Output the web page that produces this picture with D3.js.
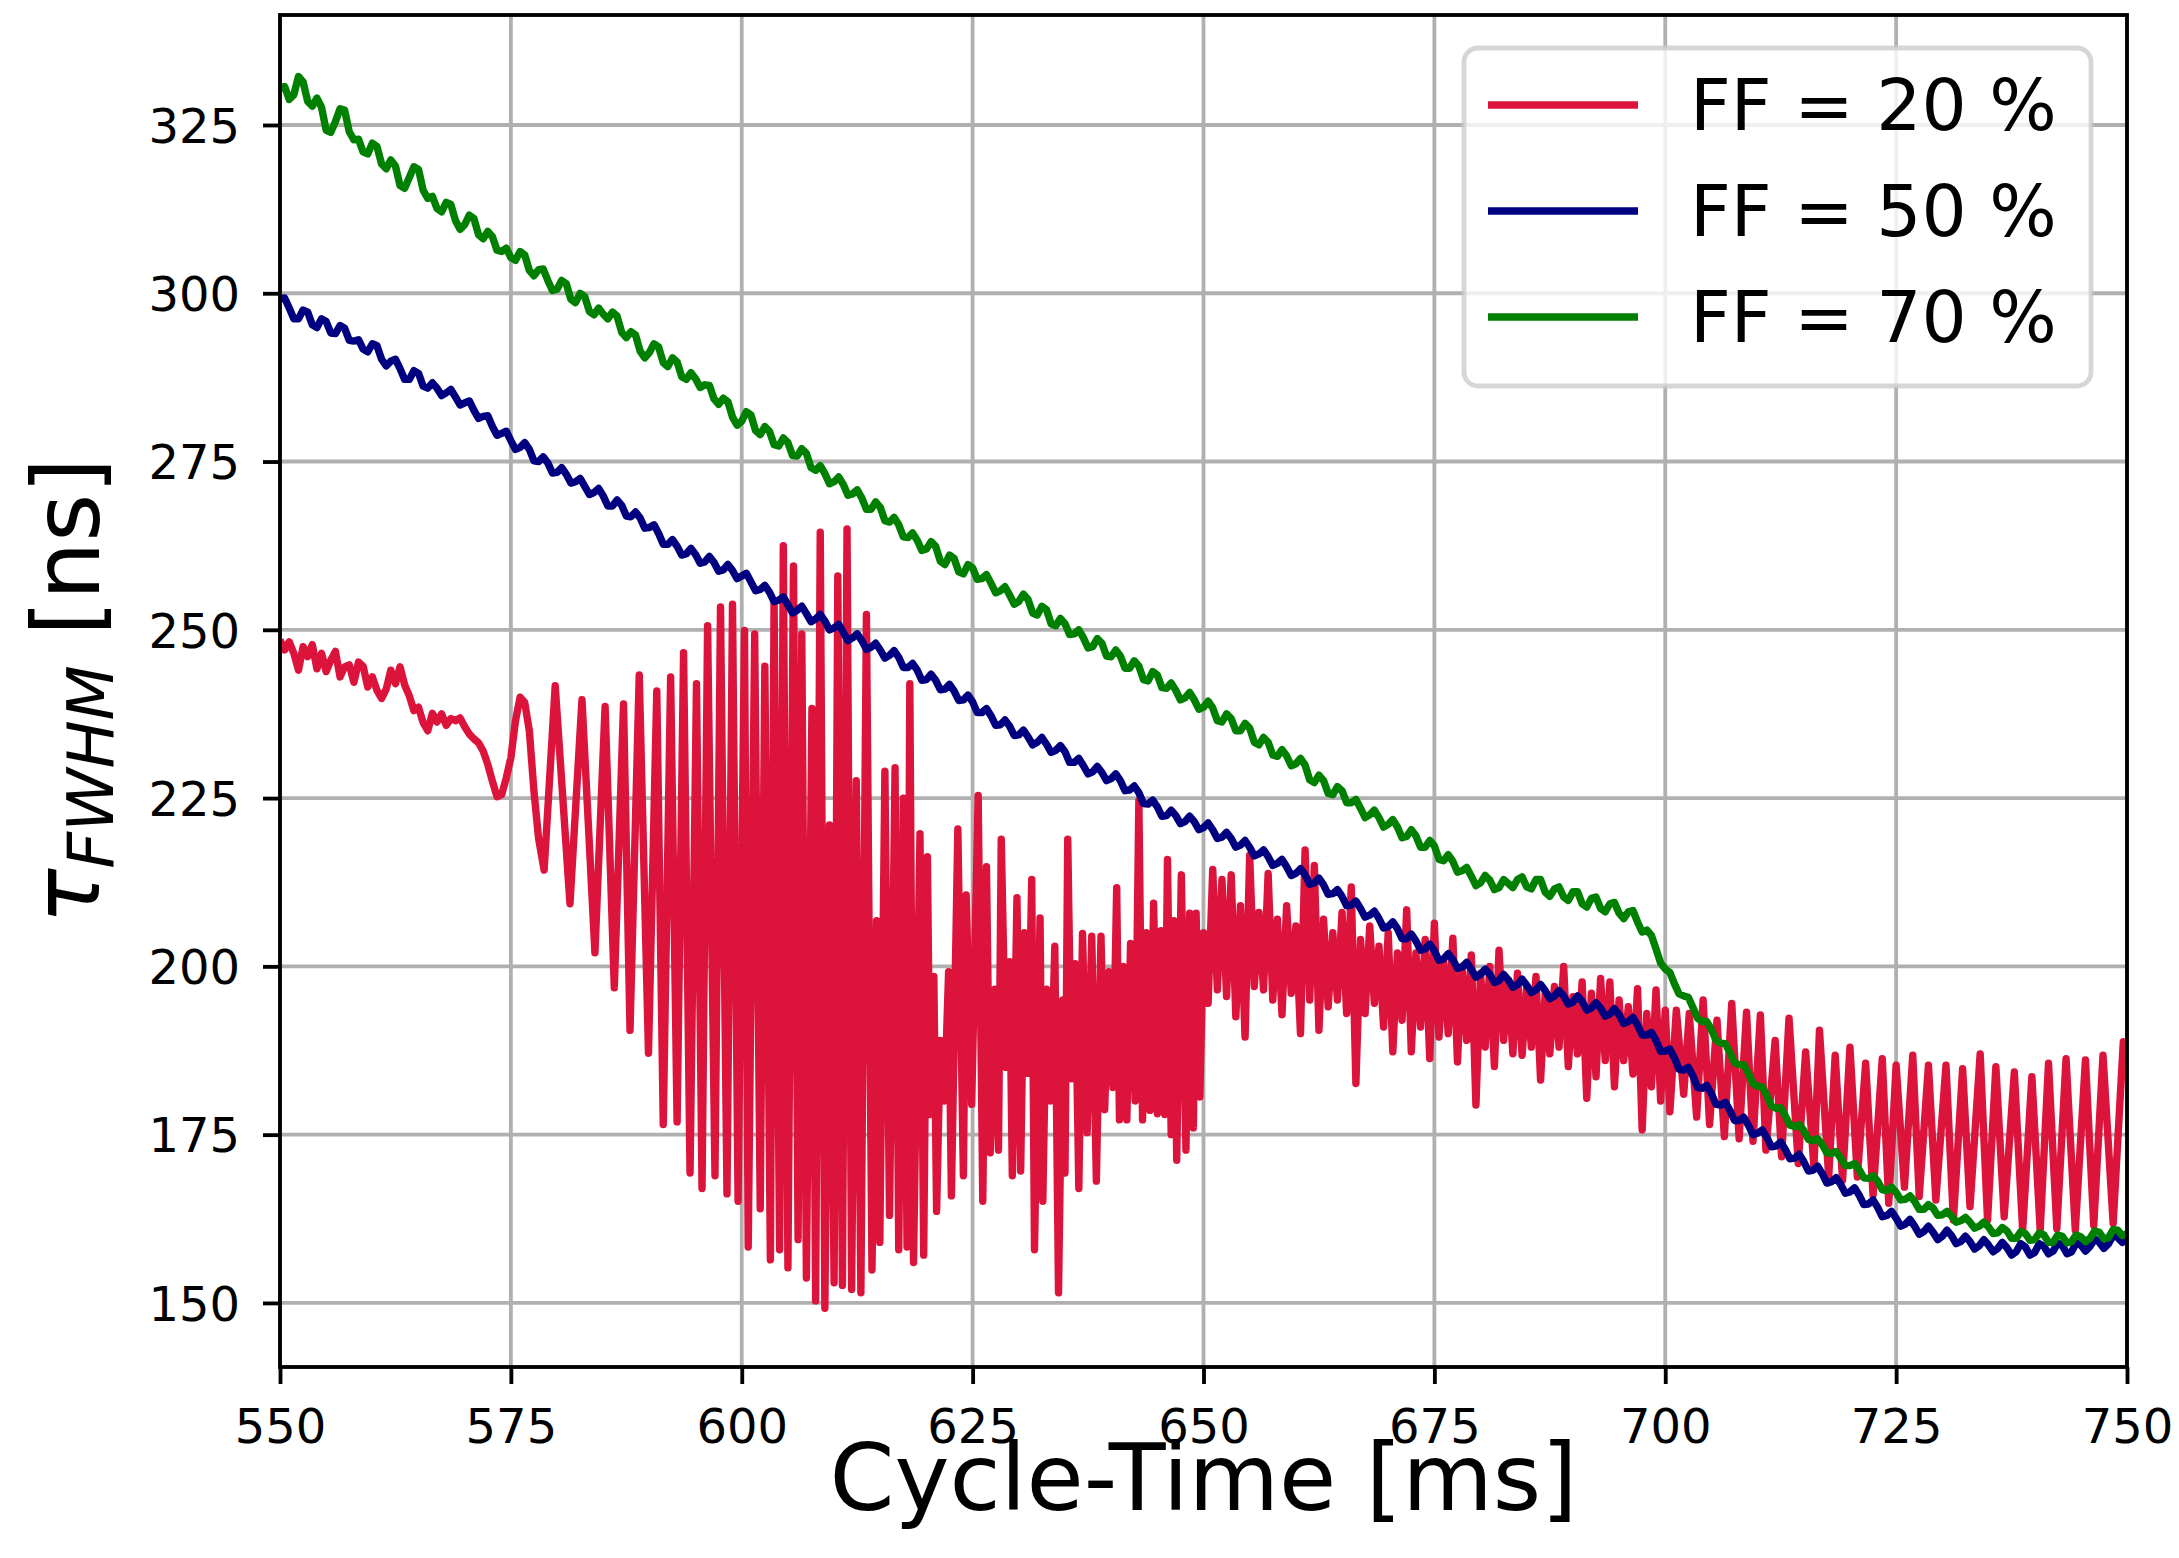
<!DOCTYPE html>
<html><head><meta charset="utf-8">
<script src="https://cdn.jsdelivr.net/npm/d3@7"></script>
<style>html,body{margin:0;padding:0;background:#fff;}svg{display:block;}</style>
</head><body>
<script>
// ---------- data ----------
const xTicks = [550, 575, 600, 625, 650, 675, 700, 725, 750];
const yTicks = [150, 175, 200, 225, 250, 275, 300, 325];
const seriesLabels = ["FF = 20 %", "FF = 50 %", "FF = 70 %"];
const seriesColors = ["#dc143c", "#000080", "#008000"];
const gridTimes = d3.range(550, 750.25, 0.5); // sampling times (ms) of the FF=50/70 traces

// FF = 50 %, one value every 0.5 ms from 550 to 750 ms (10 values per row = 5 ms)
const ff50 = [
299.2,299.3,297.8,296.2,296.2,297.5,297.2,295.3,294.9,296.2,
295.8,294.1,294.0,295.2,294.8,293.0,292.9,293.1,291.7,291.3,
292.5,292.2,290.2,289.2,289.9,290.2,288.8,287.2,287.2,288.5,
288.1,286.2,285.9,286.7,285.9,284.8,285.2,285.7,284.6,283.4,
283.7,284.0,282.6,281.4,281.7,281.8,280.2,278.9,279.2,279.5,
278.1,276.8,277.1,277.8,276.8,275.1,275.0,275.7,274.8,273.3,
273.4,274.1,273.1,271.8,272.0,272.5,271.3,270.1,270.4,271.0,
269.9,268.4,268.4,269.3,268.5,266.9,266.8,267.5,266.6,265.1,
265.2,265.6,264.3,262.7,262.7,263.4,262.4,261.1,261.3,262.1,
261.2,259.9,260.1,260.9,260.0,258.7,258.9,259.7,258.8,257.6,
258.0,258.4,257.1,255.8,256.0,256.6,255.6,254.2,254.4,254.9,
253.7,252.5,252.9,253.5,252.4,251.2,251.6,252.3,251.3,250.0,
250.3,250.8,249.6,248.4,248.8,249.4,248.4,247.1,247.4,248.0,
247.0,245.8,246.2,246.9,245.9,244.4,244.4,245.0,244.0,242.5,
242.6,243.4,242.5,241.1,241.2,241.9,240.9,239.5,239.6,240.3,
239.3,237.7,237.7,238.3,237.2,235.8,235.9,236.6,235.7,234.3,
234.4,235.1,234.1,232.9,233.3,234.0,233.0,231.8,232.1,232.8,
231.9,230.3,230.3,230.9,229.8,228.6,228.9,229.7,228.8,227.6,
227.9,228.6,227.6,226.1,226.2,226.8,225.8,224.2,224.1,224.7,
223.7,222.3,222.4,223.2,222.4,221.2,221.5,222.3,221.5,220.3,
220.6,221.3,220.3,219.0,219.2,219.9,219.0,217.7,218.0,218.7,
217.7,216.4,216.7,217.3,216.3,215.0,215.3,215.9,214.8,213.5,
213.8,214.5,213.6,212.2,212.4,213.1,212.1,210.7,210.8,211.4,
210.4,209.0,209.1,209.7,208.6,207.3,207.6,208.2,207.1,205.7,
205.9,206.6,205.6,204.1,204.1,204.8,203.8,202.4,202.6,203.3,
202.3,200.9,201.1,201.9,201.0,199.7,199.9,200.6,199.6,198.4,
198.8,199.6,198.8,197.6,197.9,198.8,198.0,196.9,197.3,198.1,
197.2,196.1,196.5,197.3,196.4,195.2,195.6,196.4,195.6,194.4,
194.7,195.6,194.8,193.5,193.8,194.6,193.8,192.6,192.9,193.7,
192.8,191.5,191.8,192.4,191.3,189.8,189.8,190.2,189.0,187.4,
187.4,187.7,186.4,184.7,184.6,185.0,183.7,182.0,181.9,182.3,
181.1,179.5,179.4,179.8,178.6,177.1,177.1,177.6,176.4,175.0,
175.2,175.7,174.6,173.2,173.3,173.9,172.8,171.4,171.5,172.1,
171.0,169.6,169.7,170.3,169.2,167.8,168.0,168.6,167.6,166.3,
166.5,167.1,166.0,164.6,164.7,165.3,164.2,162.8,163.0,163.6,
162.6,161.4,161.7,162.4,161.4,160.2,160.6,161.4,160.5,159.4,
159.9,160.8,160.0,158.8,159.1,159.9,159.1,158.0,158.5,159.4,
158.6,157.6,158.1,159.0,158.2,157.1,157.6,158.8,158.3,157.1,
157.5,158.8,158.4,157.3,157.7,158.9,158.5,157.3,157.6,158.9,
158.6,157.7,158.4,159.5,159.0,158.1,158.8,160.0,159.7,159.0,
159.8];

// FF = 70 %, one value every 0.5 ms from 550 to 750 ms
const ff70 = [
330.5,330.7,328.8,329.5,332.2,331.4,328.5,327.8,329.0,327.6,
324.2,323.9,325.5,327.4,327.2,324.0,322.8,322.9,321.0,320.7,
322.3,321.8,319.2,318.5,319.8,318.9,316.0,315.6,317.2,318.8,
318.4,315.3,314.1,314.4,312.6,312.1,313.5,313.2,310.8,309.5,
310.2,311.6,311.1,308.7,308.1,309.2,308.4,306.4,306.2,306.7,
305.3,304.9,306.2,305.7,303.4,302.6,303.5,303.6,301.9,300.4,
300.6,301.9,301.4,299.1,298.6,300.0,299.5,297.3,296.8,297.8,
296.9,296.2,297.2,296.6,294.2,293.4,294.3,293.8,291.4,290.4,
291.2,292.5,292.0,289.7,289.1,290.4,289.8,287.6,287.2,288.2,
287.3,286.0,286.4,286.3,284.3,283.5,284.4,283.9,281.6,280.4,
281.0,282.4,281.9,279.6,279.0,280.2,279.5,277.5,277.3,278.5,
277.8,275.9,275.8,276.9,276.2,274.1,273.7,274.4,273.2,271.7,
272.0,272.7,271.6,270.0,270.2,270.8,269.6,267.9,267.9,269.0,
268.2,266.2,266.0,266.7,265.6,263.8,263.7,264.4,263.3,261.8,
262.0,263.1,262.4,260.2,259.7,261.1,260.6,258.6,258.3,259.7,
259.2,257.5,257.6,258.2,256.9,255.5,255.8,256.4,255.2,253.8,
254.2,255.3,254.5,252.5,252.2,253.5,253.0,250.9,250.6,251.7,
250.9,249.3,249.4,250.0,248.8,247.3,247.5,248.7,248.0,246.1,
246.0,247.0,246.1,244.3,244.3,245.4,244.6,242.6,242.4,243.8,
243.3,241.4,241.3,242.1,241.0,239.6,239.9,240.7,239.6,238.2,
238.5,239.4,238.4,236.5,236.3,237.5,236.8,235.0,235.0,236.1,
235.4,233.3,232.9,234.0,233.3,231.4,231.2,232.2,231.3,229.8,
230.1,230.9,229.9,227.7,227.3,228.4,227.6,225.7,225.5,226.7,
226.1,224.3,224.3,224.8,223.5,222.1,222.5,223.2,222.1,220.7,
221.1,221.8,220.7,219.1,219.3,220.3,219.4,217.7,217.7,218.7,
217.9,215.9,215.7,216.6,215.6,214.0,214.2,214.7,213.4,212.0,
212.4,213.5,212.8,211.4,211.7,212.9,212.3,211.7,212.9,213.3,
211.8,211.5,212.9,212.9,211.0,210.4,211.5,211.8,210.3,209.8,
211.1,211.1,209.3,208.8,210.1,210.3,208.6,208.1,209.3,209.5,
207.9,207.1,208.1,208.3,206.6,205.1,205.4,204.6,202.6,200.5,
199.6,199.1,197.4,195.9,195.6,195.4,193.9,192.3,191.8,191.8,
190.6,189.0,188.6,188.5,187.2,185.7,185.4,185.4,184.1,182.6,
182.2,182.1,180.8,179.3,178.9,179.0,177.8,176.4,176.2,176.5,
175.6,174.3,174.1,174.4,173.5,172.3,172.2,172.5,171.5,170.4,
170.4,170.7,169.8,168.6,168.5,168.9,168.1,166.8,166.7,167.2,
166.4,165.3,165.4,165.9,165.1,163.9,163.9,164.6,164.1,163.0,
163.1,163.6,162.9,162.0,162.2,162.7,162.0,161.1,161.4,162.0,
161.3,160.3,160.4,161.2,160.7,159.6,159.6,160.6,160.3,159.3,
159.4,160.4,160.1,159.0,159.0,160.1,159.9,158.9,159.1,160.1,
159.8,159.1,159.6,160.7,160.5,159.5,159.7,160.9,160.8,160.0,
160.3];

// FF = 20 %: [time ms, tau ns]
const ff20 = [
[550.0,248.5],[550.5,247.0],[551.0,248.2],[551.5,246.5],[552.0,244.0],[552.5,247.5],[553.0,246.0],[553.5,247.8],[554.0,244.2],[554.5,246.5],
[555.0,243.8],[555.5,245.5],[556.0,246.8],[556.5,243.0],[557.0,244.5],[557.5,244.8],[558.0,242.2],[558.5,245.2],[559.0,244.6],[559.5,241.5],
[560.0,243.0],[560.5,241.0],[561.0,239.8],[561.5,241.2],[562.0,244.0],[562.5,242.0],[563.0,244.5],[563.5,241.8],[564.0,240.2],[564.5,238.0],
[565.0,238.5],[565.5,236.2],[566.0,235.0],[566.5,237.6],[567.0,236.3],[567.5,237.5],[568.0,235.8],[568.5,236.8],[569.0,236.5],[569.5,236.9],
[570.0,235.6],[570.5,234.5],[571.0,233.8],[571.5,233.2],[572.0,232.0],[572.5,230.0],[573.0,227.5],[573.5,225.2],[574.0,225.5],[574.5,228.0],
[575.0,231.0],[575.5,236.5],[576.0,240.0],[576.5,239.2],[577.0,235.0],[577.5,226.0],[578.0,219.0],[578.6,214.3],
[579.8,241.7],[581.4,209.3],[582.7,239.6],[584.1,202.0],[585.2,238.6],[586.2,196.8],[587.2,239.0],[587.9,190.5],[588.9,243.3],[589.9,187.1],
[590.8,240.9],[591.5,176.5],[592.3,243.0],[593.0,176.9],[593.7,246.6],[594.4,169.3],[595.1,242.0],[595.7,167.0],[596.3,250.6],[597.1,168.9],
[597.7,253.4],[598.4,166.2],[599.0,253.8],[599.6,165.1],[600.3,249.9],[600.7,158.3],[601.4,249.4],[602.0,164.0],[602.5,244.6],[603.1,156.4],
[603.5,254.2],[604.1,157.9],[604.5,262.5],[605.0,155.2],[605.6,259.5],[606.1,159.4],[606.5,249.4],[607.0,153.7],[607.6,238.3],[608.0,150.3],
[608.5,264.5],[609.0,149.2],[609.5,221.0],[610.0,153.0],[610.4,258.0],[610.9,152.6],[611.4,265.0],[611.9,152.0],[612.4,227.6],[612.9,151.5],
[613.5,252.3],[614.1,154.9],[614.6,206.8],[614.95,159.0],[615.5,229.0],[616.0,163.0],[616.6,229.5],[617.0,157.9],[617.5,225.0],[617.9,158.3],
[618.2,242.0],[618.6,156.0],[619.3,219.7],[619.7,157.1],[620.1,216.3],[620.4,178.0],[620.8,198.5],[621.1,163.6],[621.5,189.0],[621.95,180.0],
[622.4,199.2],[622.7,165.9],[623.4,220.4],[624.0,168.9],[624.3,210.6],[624.9,179.5],[625.6,225.4],[626.1,165.1],[626.5,214.8],[626.9,172.3],
[627.4,196.6],[627.8,172.7],[628.1,218.9],[628.6,185.0],[629.0,200.7],[629.3,168.9],[629.8,210.2],[630.2,169.6],[630.6,205.0],[631.0,184.1],
[631.4,212.9],[631.7,157.9],[632.3,207.2],[632.6,165.1],[633.0,196.6],[633.45,180.0],[633.9,203.0],[634.3,151.5],[634.75,195.0],[635.0,169.3],
[635.3,218.9],[635.7,183.3],[636.1,200.4],[636.5,167.0],[636.9,204.9],[637.4,175.3],[637.9,204.5],[638.4,168.1],[638.9,204.5],[639.3,178.7],
[639.75,199.2],[640.2,182.0],[640.6,211.7],[640.9,177.2],[641.3,200.0],[641.7,177.2],[642.1,203.4],[642.6,180.0],[643.0,224.6],[643.4,177.2],
[643.8,205.0],[644.2,178.6],[644.6,209.4],[645.0,178.1],[645.4,205.3],[645.8,178.0],[646.1,215.9],[646.5,175.0],[646.8,206.8],[647.1,171.2],
[647.6,213.6],[648.1,172.7],[648.5,207.9],[648.9,176.0],[649.2,207.9],[649.6,180.6],[650.0,205.0],[650.5,194.5],
[651,214.4],[651.5,196.5],[652,212.9],[652.5,195.5],[653,213.6],[653.5,192.5],[654,209.0],[654.5,189.5],[655,216.5],[655.5,197.0],
[656,208.0],[656.5,196.5],[657,213.8],[657.5,195.0],[658,207.0],[658.5,192.8],[659,209.0],[659.5,196.0],[660,206.0],[660.5,190.0],
[661,217.3],[661.5,195.0],[662,215.0],[662.5,190.5],[663,207.0],[663.5,194.0],[664,205.0],[664.5,195.0],[665,208.0],[665.5,193.0],
[666,211.8],[666.5,182.6],[667,204.0],[667.5,193.0],[668,206.0],[668.5,194.5],[669,203.0],[669.5,191.0],[670,205.0],[670.5,187.3],
[671,202.0],[671.5,192.0],[672,208.4],[672.5,187.3],[673,202.0],[673.5,191.0],[674,204.0],[674.5,186.3],[675,206.4],[675.5,189.5],
[676,201.0],[676.5,190.0],[677,204.2],[677.5,185.8],[678,200.0],[678.5,189.0],[679,201.7],[679.5,179.4],[680,199.0],[680.5,188.0],
[681,200.0],[681.5,185.1],[682,202.4],[682.5,189.0],[683,198.0],[683.5,187.0],[684,199.0],[684.5,186.8],[685,197.0],[685.5,188.0],
[686,198.5],[686.5,183.1],[687,196.0],[687.5,187.0],[688,197.0],[688.5,188.0],[689,200.0],[689.5,185.1],[690,195.5],[690.5,187.0],
[691,197.7],[691.5,180.4],[692,196.0],[692.5,183.6],[693,198.2],[693.5,186.0],[694,197.7],[694.5,182.1],[695,195.0],[695.5,186.0],
[696,194.0],[696.5,184.0],[697,196.7],[697.5,175.7],[698,193.0],[698.5,182.1],[699,196.5],[699.5,180.0],[700,193.5],[700.5,178.4],
[701.2,193.5],[702.0,181.0],[702.6,193.0],[703.4,177.6],[704.1,195.0],[704.8,176.5],[705.6,192.0],[706.4,174.7],[707.2,194.5],[708.0,174.4],
[708.8,193.2],[709.5,174.0],[710.3,192.8],[710.9,172.7],[711.9,189.0],[712.6,171.7],[713.4,192.3],[714.4,170.7],[715.2,187.3],[716.1,170.2],
[716.7,190.5],[717.7,168.7],[718.4,186.8],[719.2,168.2],[720.0,188.0],[720.8,168.7],[721.7,185.6],[722.5,166.0],[723.5,186.3],[724.2,164.8],
[725.0,185.3],[725.9,167.2],[726.8,186.8],[727.5,165.8],[728.5,185.3],[729.3,165.3],[730.4,185.3],[731.2,162.3],[732.2,184.8],[733.0,164.3],
[734.1,187.0],[734.9,162.3],[735.8,185.1],[736.7,162.8],[737.8,184.3],[738.7,160.8],[739.7,183.6],[740.6,160.8],[741.5,185.6],[742.4,161.0],
[743.4,186.3],[744.4,160.8],[745.5,186.1],[746.4,161.5],[747.4,186.8],[748.5,161.8],[749.6,188.8],[750.0,187.5]
];

// ---------- drawing ----------
const W = 2179, H = 1558;
const X0 = 280, X1 = 2127, Y0 = 15, Y1 = 1367;
const FONT = "'DejaVu Sans', 'Liberation Sans', sans-serif";
const LW = 7.4, AXLW = 3.84;

const svg = d3.select("body").append("svg").attr("width", W).attr("height", H)
  .style("font-family", FONT);
svg.append("rect").attr("width", W).attr("height", H).attr("fill", "#fff");

const x = d3.scaleLinear().domain([550, 750]).range([X0, X1]);
const y = d3.scaleLinear().domain([140.48, 341.34]).range([Y1, Y0]);

svg.append("defs").append("clipPath").attr("id", "clip")
  .append("rect").attr("x", X0).attr("y", Y0).attr("width", X1 - X0).attr("height", Y1 - Y0);

// grid
const grid = svg.append("g");
grid.selectAll(".gx").data(xTicks).join("line")
  .attr("x1", d => x(d)).attr("x2", d => x(d)).attr("y1", Y0).attr("y2", Y1)
  .attr("stroke", "#b0b0b0").attr("stroke-width", AXLW);
grid.selectAll(".gy").data(yTicks).join("line")
  .attr("x1", X0).attr("x2", X1).attr("y1", d => y(d)).attr("y2", d => y(d))
  .attr("stroke", "#b0b0b0").attr("stroke-width", AXLW);

// lines
const lineGen = d3.line().x(d => x(d[0])).y(d => y(d[1]));
const series = [
  ff20,
  gridTimes.map((t, i) => [t, ff50[i]]),
  gridTimes.map((t, i) => [t, ff70[i]])
];
const plot = svg.append("g").attr("clip-path", "url(#clip)");
series.forEach((s, i) => {
  plot.append("path").datum(s).attr("d", lineGen)
    .attr("fill", "none").attr("stroke", seriesColors[i])
    .attr("stroke-width", LW).attr("stroke-linejoin", "round").attr("stroke-linecap", "butt");
});

// axes
const xAxis = d3.axisBottom(x).tickValues(xTicks).tickSize(17).tickSizeOuter(0).tickPadding(25)
  .tickFormat(d3.format("d"));
const gx = svg.append("g").attr("transform", `translate(0,${Y1})`).call(xAxis);
const yAxis = d3.axisLeft(y).tickValues(yTicks).tickSize(17).tickSizeOuter(0).tickPadding(23)
  .tickFormat(d3.format("d"));
const gy = svg.append("g").attr("transform", `translate(${X0},0)`).call(yAxis);
[gx, gy].forEach(g => {
  g.select(".domain").remove();
  g.selectAll(".tick line").attr("stroke", "#000").attr("stroke-width", AXLW);
  g.selectAll(".tick text").attr("font-family", FONT).attr("font-size", 48).attr("fill", "#000");
});
gy.selectAll(".tick text").attr("dy", "0.36em");

// spines
svg.append("rect").attr("x", X0).attr("y", Y0).attr("width", X1 - X0).attr("height", Y1 - Y0)
  .attr("fill", "none").attr("stroke", "#000").attr("stroke-width", AXLW);

// axis labels
svg.append("text").attr("x", (X0 + X1) / 2).attr("y", 1510).attr("text-anchor", "middle")
  .attr("font-size", 93).attr("fill", "#000").text("Cycle-Time [ms]");

const yl = svg.append("text").attr("transform", `translate(99,${(Y0 + Y1) / 2}) rotate(-90)`)
  .attr("text-anchor", "middle").attr("font-size", 92).attr("fill", "#000");
yl.append("tspan").attr("font-style", "italic").text("τ");
yl.append("tspan").attr("font-style", "italic").attr("font-size", 64).attr("dy", 14).text("FWHM");
yl.append("tspan").attr("dy", -14).text(" [ns]");

// legend
const lg = svg.append("g");
lg.append("rect").attr("x", 1464).attr("y", 48).attr("width", 2091 - 1464).attr("height", 386 - 48)
  .attr("rx", 14).attr("ry", 14).attr("fill", "#fff").attr("fill-opacity", 0.8)
  .attr("stroke", "#cccccc").attr("stroke-opacity", 0.8).attr("stroke-width", 4.8);
const rowY = [105, 211, 317];
seriesLabels.forEach((lab, i) => {
  lg.append("line").attr("x1", 1488).attr("x2", 1638).attr("y1", rowY[i]).attr("y2", rowY[i])
    .attr("stroke", seriesColors[i]).attr("stroke-width", LW);
  lg.append("text").attr("x", 1690).attr("y", rowY[i] + 25).attr("font-size", 71)
    .attr("fill", "#000").text(lab);
});
</script>
</body></html>
